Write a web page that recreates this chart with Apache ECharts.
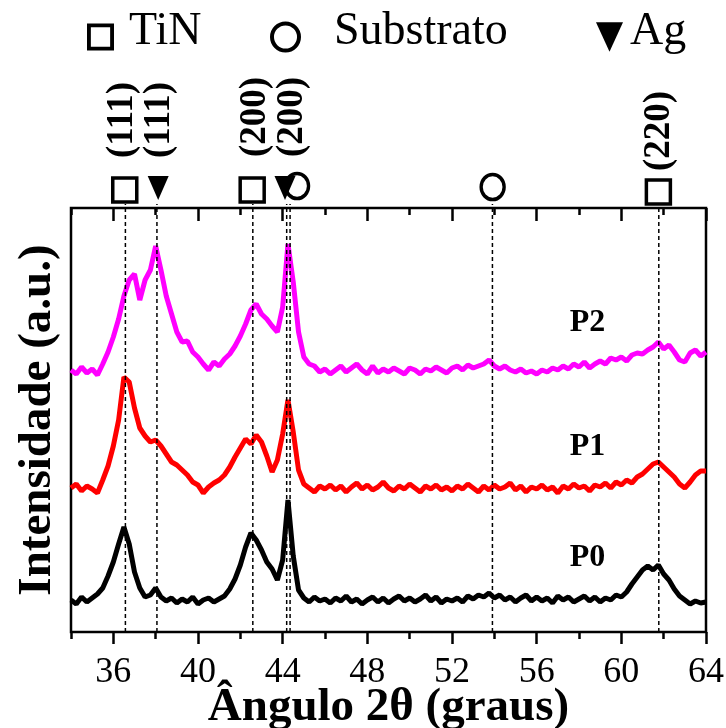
<!DOCTYPE html>
<html>
<head>
<meta charset="utf-8">
<script src="https://cdn.jsdelivr.net/npm/echarts@6/dist/echarts.min.js"></script>
<style>
  html, body { margin: 0; padding: 0; background: #fff; }
  #chart { width: 726px; height: 728px; }
</style>
</head>
<body>
<div id="chart"></div>
<script>
// scan: 34 to 64 deg, one reading every 0.25 deg
var angleStart = 34;
var angleStep = 0.25;

// intensities (a.u., offset curves)
var p2Values = [
  262, 258, 265, 259, 263, 257, 268, 280,
  295, 313, 336, 352, 358, 332, 352, 362,
  386, 362, 336, 318, 300, 290, 291, 280,
  275, 268, 262, 270, 266, 273, 278, 286,
  296, 308, 322, 328, 318, 313, 306, 300,
  325, 388, 350, 300, 275, 268, 266, 260,
  263, 258, 262, 266, 260, 264, 268, 262,
  258, 266, 259, 263, 260, 264, 261, 258,
  264, 262, 258, 263, 261, 265, 262, 259,
  264, 266, 262, 267, 264, 266, 268, 272,
  266, 263, 266, 262, 260, 263, 259, 261,
  258, 262, 260, 264, 262, 266, 263, 268,
  265, 270, 264, 268, 271, 268, 274, 272,
  275, 271, 277, 279, 278, 282, 285, 290,
  283, 287, 280, 272, 270, 279, 282, 276,
  280
];
var p1Values = [
  144, 148, 141, 146, 143, 139, 152, 166,
  186, 212, 255, 250, 224, 204, 196, 190,
  192, 186, 178, 170, 167, 162, 157, 150,
  147, 139, 145, 149, 152, 157, 165, 175,
  184, 193, 188, 197, 190, 176, 160, 172,
  198, 232, 200, 162, 148, 144, 140, 146,
  143, 147, 142, 146, 140, 145, 149, 143,
  147, 142, 145, 150, 144, 141, 146, 143,
  148, 144, 140, 146, 143, 147, 142, 145,
  141, 146, 143, 148, 144, 140, 146, 142,
  147, 143, 145, 149, 142, 146, 140, 145,
  143, 147, 142, 145, 139, 146, 143, 148,
  144, 146, 141, 147, 145, 149, 144, 150,
  147, 152, 149, 155, 158, 163, 168, 170,
  165, 160, 155, 148, 144, 150, 157, 161,
  161
];
var p0Values = [
  32, 28, 35, 30, 34, 38, 44, 56,
  70, 88, 105, 88, 60, 44, 35, 37,
  44, 35, 31, 34, 29, 33, 30, 35,
  28, 32, 34, 30, 33, 36, 43, 53,
  67, 85, 99, 92, 82, 70, 63, 52,
  72, 132, 76, 42, 34, 30, 35, 31,
  33, 29, 34, 31, 36, 30, 33, 28,
  32, 35, 30, 34, 29, 33, 36, 31,
  34, 30, 33, 37, 31, 35, 29, 33,
  31, 34, 30, 36, 33, 37, 35, 39,
  34, 37, 32, 35, 30, 34, 37, 31,
  35, 31, 34, 29, 36, 32, 35, 30,
  33, 36, 31, 35, 30, 34, 32, 37,
  35, 40, 48, 55, 62, 66, 62, 67,
  58, 52, 43, 36, 32, 28, 31, 29,
  30
];

var sampleNames = ['P2', 'P1', 'P0'];
var sampleColors = ['#ff00ff', '#ff0000', '#000000'];
var sampleLabelX = [58.4, 58.4, 58.4];
var sampleLabelY = [309, 185, 74];

// reference peak positions
var dashAngles = [36.57, 38.06, 42.59, 44.19, 44.35, 53.91, 61.77];
var dashTop = 428;
var tinAngles = [36.54, 42.56, 61.75];
var tinY = [442, 442, 440];
var subAngles = [44.68, 53.92];
var subY = [446, 445];
var agAngles = [38.12, 44.11];
var agY = [444, 444];

var millerLabels = ['(111)', '(111)', '(200)', '(200)', '(220)'];
var millerAngles = [36.42, 38.2, 42.7, 44.45, 61.8];
var millerY = [512, 512, 515, 515, 501];

var majorTicks = [36, 40, 44, 48, 52, 56, 60, 64];
var minorTicks = [34, 38, 42, 46, 50, 54, 58, 62];

var FONT = 'Liberation Serif';
var triPath = 'path://M0,0L20,0L10,22Z';
// hollow icons for the legend (frame / ring)
var squareRing = 'path://M0,0H28V28H0Z M4,4V24H24V4Z';
var circleRing = 'path://M14,0A14,14 0 1,1 14,28A14,14 0 1,1 14,0Z M14,3.6A10.4,10.4 0 1,0 14,24.4A10.4,10.4 0 1,0 14,3.6Z';

function toPairs(vals) {
  return vals.map(function(v, i) { return [angleStart + i * angleStep, v]; });
}
function zipXY(xs, ys) {
  return xs.map(function(x, i) { return [x, ys[i]]; });
}

var chart = echarts.init(document.getElementById('chart'));

var gridRect = { left: 71, right: 20, top: 208, bottom: 96, containLabel: false, outerBoundsMode: 'none' };

function tickAxis(gridIndex, pos, values, len, inside) {
  return {
    type: 'value', gridIndex: gridIndex, position: pos, min: 34, max: 64, interval: 2,
    axisLine: { show: false },
    axisTick: { show: true, inside: inside, length: len, customValues: values,
                lineStyle: { color: '#000', width: 2.5 } },
    axisLabel: { show: false },
    splitLine: { show: false }
  };
}

var bottomMajor = tickAxis(0, 'bottom', majorTicks, 12, false);
bottomMajor.axisLabel = { show: true, customValues: majorTicks, fontFamily: FONT, fontSize: 36,
                          color: '#000', margin: 23 };
bottomMajor.name = 'Ângulo 2θ (graus)';
bottomMajor.nameLocation = 'middle';
bottomMajor.nameGap = 52;
bottomMajor.nameMoveOverlap = false;
bottomMajor.nameTextStyle = { fontFamily: FONT, fontSize: 47, fontWeight: 'bold', color: '#000' };

var series = [];
sampleNames.forEach(function(name, k) {
  var vals = [p2Values, p1Values, p0Values][k];
  series.push({
    name: name, type: 'line', xAxisIndex: 0, yAxisIndex: 0,
    data: toPairs(vals), showSymbol: false, symbol: 'none',
    lineStyle: { color: sampleColors[k], width: 5 }, z: 2
  });
});

// dashed guide lines, one short series each
dashAngles.forEach(function(a) {
  series.push({
    type: 'line', xAxisIndex: 0, yAxisIndex: 0, clip: false, z: 4, silent: true,
    showSymbol: false, symbol: 'none',
    data: [[a, 0], [a, dashTop]],
    lineStyle: { color: '#000', width: 1.5, type: [4, 3] }
  });
});

series.push({
  name: 'TiN', type: 'scatter', xAxisIndex: 0, yAxisIndex: 0, clip: false, z: 5,
  symbol: 'rect', symbolSize: 24, data: zipXY(tinAngles, tinY),
  itemStyle: { color: '#fff', borderColor: '#000', borderWidth: 3.5, opacity: 1 }
});
series.push({
  name: 'Substrato', type: 'scatter', xAxisIndex: 0, yAxisIndex: 0, clip: false, z: 5,
  symbol: 'circle', symbolSize: [23, 25], data: zipXY(subAngles, subY),
  itemStyle: { color: '#fff', borderColor: '#000', borderWidth: 3.5, opacity: 1 }
});
series.push({
  name: 'Ag', type: 'scatter', xAxisIndex: 0, yAxisIndex: 0, clip: false, z: 6,
  symbol: triPath, symbolSize: [21, 24], data: zipXY(agAngles, agY),
  itemStyle: { color: '#000', opacity: 1 }
});

// Miller indices
series.push({
  type: 'scatter', xAxisIndex: 0, yAxisIndex: 0, clip: false, symbolSize: 0, silent: true,
  itemStyle: { opacity: 1 },
  data: millerLabels.map(function(t, i) { return { name: t, value: [millerAngles[i], millerY[i]] }; }),
  label: { show: true, position: 'inside', rotate: 90, formatter: '{b}',
           fontFamily: FONT, fontSize: 37, fontWeight: 'bold', color: '#000' }
});

// sample names
series.push({
  type: 'scatter', xAxisIndex: 0, yAxisIndex: 0, clip: false, symbolSize: 0, silent: true,
  itemStyle: { opacity: 1 },
  data: sampleNames.map(function(t, i) { return { name: t, value: [sampleLabelX[i], sampleLabelY[i]] }; }),
  label: { show: true, position: 'inside', formatter: '{b}',
           fontFamily: FONT, fontSize: 32, fontWeight: 'bold', color: '#000' }
});

function legendFor(name, icon, left, w, h, pad) {
  return {
    data: [{ name: name, icon: icon }], left: left, top: 4, selectedMode: false,
    itemWidth: w, itemHeight: h,
    itemStyle: { color: '#000', borderWidth: 0, opacity: 1 },
    formatter: '{t|' + name + '}',
    textStyle: {
      rich: { t: { fontFamily: FONT, fontSize: 46, color: '#000', padding: [0, 0, 10, pad] } }
    }
  };
}

var option = {
  backgroundColor: '#fff',
  animation: false,
  legend: [
    legendFor('TiN', squareRing, 82, 27, 27, 10),
    legendFor('Substrato', circleRing, 265, 31, 33, 28),
    legendFor('Ag', triPath, 591, 27, 30, 2)
  ],
  grid: [
    Object.assign({ show: true, borderColor: '#000', borderWidth: 2.5, backgroundColor: 'transparent' }, gridRect),
    Object.assign({ show: false }, gridRect)
  ],
  xAxis: [
    bottomMajor,
    tickAxis(0, 'top', majorTicks, 13, true),
    tickAxis(1, 'bottom', minorTicks, 7, false),
    tickAxis(1, 'top', minorTicks, 7, true)
  ],
  yAxis: [
    {
      type: 'value', gridIndex: 0, min: 0, max: 424,
      axisLine: { show: false }, axisTick: { show: false }, axisLabel: { show: false },
      splitLine: { show: false },
      name: 'Intensidade (a.u.)', nameLocation: 'middle', nameGap: 10, nameMoveOverlap: false,
      nameTextStyle: { fontFamily: FONT, fontSize: 47, fontWeight: 'bold', color: '#000' }
    },
    {
      type: 'value', gridIndex: 1, min: 0, max: 424, show: false
    }
  ],
  series: series
};

chart.setOption(option);
</script>
</body>
</html>
